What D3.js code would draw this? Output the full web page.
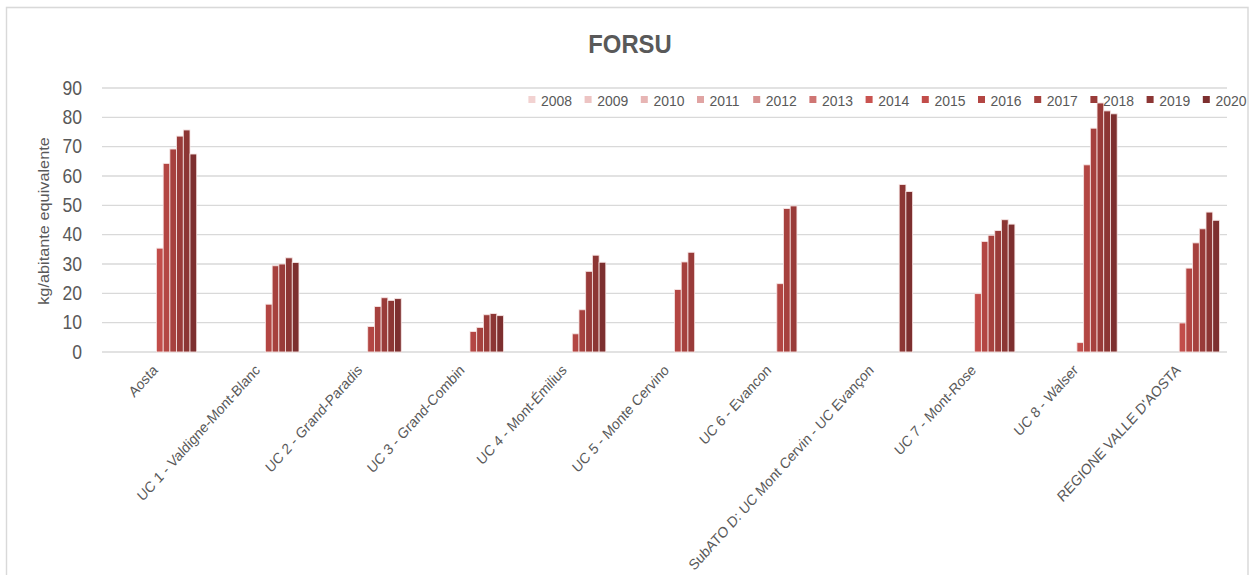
<!DOCTYPE html>
<html>
<head>
<meta charset="utf-8">
<script src="https://cdn.jsdelivr.net/npm/d3@7"></script>
<style>
    body { margin: 0; background: #fff; }
    svg { display: block; }
    text { font-family: "Liberation Sans", Arial, sans-serif; fill: #595959; }
</style>
</head>
<body>
<svg id="chart" width="1252" height="575"></svg>
<script>
var categories = ["Aosta", "UC 1 - Valdigne-Mont-Blanc", "UC 2 - Grand-Paradis", "UC 3 - Grand-Combin",
    "UC 4 - Mont-Émilius", "UC 5 - Monte Cervino", "UC 6 - Evancon", "SubATO D: UC Mont Cervin - UC Evançon",
    "UC 7 - Mont-Rose", "UC 8 - Walser", "REGIONE VALLE D'AOSTA"]

var years = ["2008", "2009", "2010", "2011", "2012", "2013", "2014", "2015", "2016", "2017", "2018", "2019", "2020"]

// kg/abitante equivalente, one value per category (null = no bar)
var v2015 = [35.4, null, null, null, null, null, null, null, 19.9, 3.2, 9.9]
var v2016 = [64.3, 16.3, 8.7, 7.0, 6.2, 21.3, 23.3, null, 37.7, 63.8, 28.6]
var v2017 = [69.2, 29.4, 15.5, 8.4, 14.4, 30.7, 48.9, null, 39.8, 76.3, 37.2]
var v2018 = [73.6, 30.0, 18.5, 12.7, 27.5, 34.0, 49.8, null, 41.4, 84.9, 42.0]
var v2019 = [75.7, 32.1, 17.6, 13.1, 33.0, null, null, 57.1, 45.1, 82.2, 47.7]
var v2020 = [67.5, 30.5, 18.2, 12.4, 30.6, null, null, 54.7, 43.6, 81.2, 44.9]

var yTicks = [0, 10, 20, 30, 40, 50, 60, 70, 80, 90]

var seriesByYear = { "2015": v2015, "2016": v2016, "2017": v2017, "2018": v2018, "2019": v2019, "2020": v2020 }

var yearColors = ['#f2d2d1', '#edc4c3', '#e7b5b4', '#e0a4a3', '#d89291', '#cf7573', '#c95350',
    '#c24d4a', '#b34643', '#a6413e', '#993b39', '#8c3634', '#7d2f2f']

// the original picture is squeezed horizontally, draw at full width and squeeze
var sx = 0.9

var svg = d3.select("#chart")
var g = svg.append("g").attr("transform", `scale(${sx},1)`)

g.append("rect")
    .attr("x", 6.5 / sx).attr("y", 7.5)
    .attr("width", (1248 - 6.5) / sx).attr("height", 620)
    .attr("fill", "none").attr("stroke", "#d9d9d9").attr("stroke-width", 1.6)

var x = d3.scaleBand()
    .domain(categories)
    .range([102 / sx, 1227 / sx])

var xi = d3.scaleBand()
    .domain(years)
    .range([0, x.bandwidth()])
    .paddingOuter(1.13)

var y = d3.scaleLinear()
    .domain([0, 90])
    .range([352, 88])

// gridlines
g.selectAll(".grid")
    .data(yTicks)
    .enter().append("line")
    .attr("class", "grid")
    .attr("x1", 102 / sx).attr("x2", 1227 / sx)
    .attr("y1", d => y(d)).attr("y2", d => y(d))
    .attr("stroke", "#d9d9d9").attr("stroke-width", 1.4)

g.selectAll(".ytick")
    .data(yTicks)
    .enter().append("text")
    .attr("class", "ytick")
    .attr("x", 82 / sx)
    .attr("y", d => y(d))
    .attr("dy", "0.35em")
    .attr("text-anchor", "end")
    .style("font-size", "19.5px")
    .text(d => d)

g.append("text")
    .attr("transform", `translate(${49 / sx},221) rotate(-90)`)
    .attr("text-anchor", "middle")
    .style("font-size", "16.3px")
    .text("kg/abitante equivalente")

g.append("text")
    .attr("x", 630 / sx).attr("y", 53)
    .attr("text-anchor", "middle")
    .style("font-size", "26.5px").style("font-weight", "bold")
    .text("FORSU")

// bars
var bars = []
years.forEach(function (yr, j) {
    var vals = seriesByYear[yr]
    if (!vals) return
    vals.forEach(function (v, i) {
        if (v != null) bars.push({ cat: categories[i], year: yr, value: v, color: yearColors[j] })
    })
})

g.selectAll(".bar")
    .data(bars)
    .enter().append("rect")
    .attr("class", "bar")
    .attr("x", d => x(d.cat) + xi(d.year))
    .attr("width", xi.bandwidth())
    .attr("y", d => y(d.value))
    .attr("height", d => y(0) - y(d.value))
    .attr("fill", d => d.color)
    .attr("stroke", "#f6e4e3").attr("stroke-width", 0.9)

// category labels
g.selectAll(".xlab")
    .data(categories)
    .enter().append("text")
    .attr("class", "xlab")
    .attr("text-anchor", "end")
    .attr("transform", d => `translate(${x(d) + x.bandwidth() / 2 + 6},371) rotate(-45)`)
    .style("font-size", "15px")
    .text(d => d)

// legend
var legend = g.selectAll(".legend")
    .data(years)
    .enter().append("g")
    .attr("class", "legend")
    .attr("transform", (d, i) => `translate(${(528.4 + i * 56.2) / sx},0)`)

legend.append("rect")
    .attr("x", 0).attr("y", 96)
    .attr("width", 7 / sx).attr("height", 7)
    .attr("fill", (d, i) => yearColors[i])

legend.append("text")
    .attr("x", 12.6 / sx).attr("y", 106.5)
    .style("font-size", "15.5px")
    .text(d => d)
</script>
</body>
</html>
